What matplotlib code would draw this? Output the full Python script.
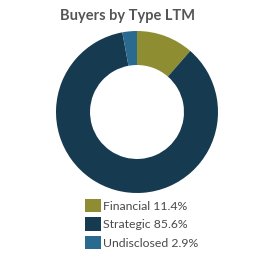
import matplotlib.pyplot as plt
from matplotlib.patches import Patch

# data
categories = ["Financial", "Strategic", "Undisclosed"]
shares = [11.4, 85.6, 2.9]
colors = ["#8e8d32", "#163a4f", "#2a6a8e"]

plt.rcParams['font.family'] = ['Lato', 'DejaVu Sans']

fig = plt.figure(figsize=(2.75, 2.68), dpi=100)
ax = fig.add_axes([(137 - 81) / 275, 1 - (112 + 81) / 268, 162 / 275, 162 / 268])
ax.pie(shares, colors=colors, startangle=90, counterclock=False,
       wedgeprops=dict(width=0.42, edgecolor='none'))
ax.set_aspect('equal')
ax.set_xlim(-1, 1)
ax.set_ylim(-1, 1)

fig.text(128 / 275, 1 - 16 / 268, "Buyers by Type LTM", ha='center', va='center',
         fontsize=10.5, fontweight='bold', color='#555555')

labels = [f"{c} {v}%" for c, v in zip(categories, shares)]
handles = [Patch(facecolor=col, edgecolor='none') for col in colors]
leg = fig.legend(handles, labels, loc='upper left', bbox_to_anchor=(85 / 275, 1 - 199 / 268),
                 frameon=False, fontsize=8.8, handlelength=1.3, handleheight=1.3,
                 handletextpad=0.2, labelspacing=0.42, borderaxespad=0, borderpad=0)
for t in leg.get_texts():
    t.set_color('#4a4a4a')

fig.savefig("out.png", dpi=100)
